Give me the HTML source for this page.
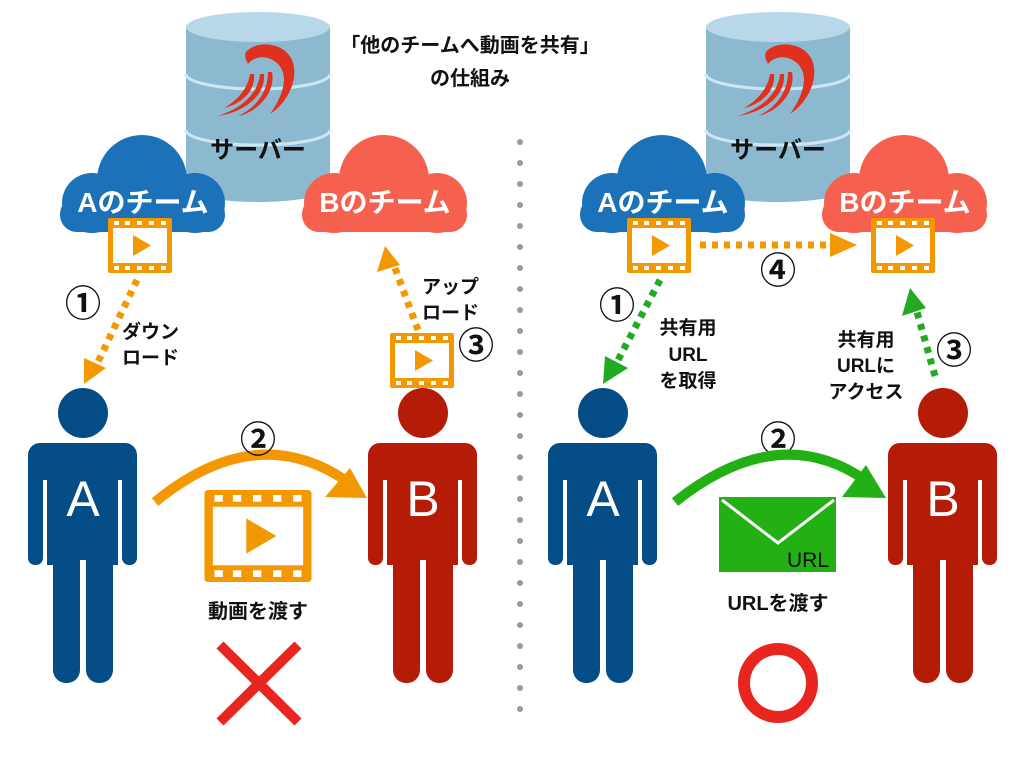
<!DOCTYPE html>
<html><head><meta charset="utf-8"><style>
html,body{margin:0;padding:0;background:#fff}
svg{display:block}
text{font-family:"Liberation Sans","Noto Sans CJK JP",sans-serif;font-weight:bold}
</style></head><body>
<svg width="1024" height="768" viewBox="0 0 1024 768" xmlns="http://www.w3.org/2000/svg">
<defs>
<symbol id="film" viewBox="0 0 64 55">
<rect x="0" y="0" width="64" height="55" rx="2" fill="#f39800"/>
<rect x="5" y="10" width="54" height="35" fill="#fff"/>
<g fill="#fff"><rect x="6" y="3" width="5" height="4"/><rect x="17" y="3" width="5" height="4"/><rect x="29" y="3" width="5" height="4"/><rect x="41" y="3" width="5" height="4"/><rect x="53" y="3" width="5" height="4"/>
<rect x="6" y="48" width="5" height="4"/><rect x="17" y="48" width="5" height="4"/><rect x="29" y="48" width="5" height="4"/><rect x="41" y="48" width="5" height="4"/><rect x="53" y="48" width="5" height="4"/></g>
<polygon points="25,17 25,38 43,27.5" fill="#f39800"/>
</symbol>
<g id="server">
<path d="M0,15 L0,175 A72,15 0 0 0 144,175 L144,15 Z" fill="#8cb9d0"/>
<ellipse cx="72" cy="15" rx="72" ry="15" fill="#b8d8ea"/>
<path d="M0,62 A72,15 0 0 0 144,62" fill="none" stroke="#cfe5f1" stroke-width="3"/>
<path d="M0,118 A72,15 0 0 0 144,118" fill="none" stroke="#cfe5f1" stroke-width="3"/>
<g fill="#e0301e">
<path d="M60,40 C70,28 98,30 106,48 C114,68 100,92 84,102 C96,85 104,65 92,52 C84,44 70,42 62,52 C60,48 58,44 60,40 Z"/>
<path d="M86,60 C90,80 72,100 52,104 C70,96 82,80 82,60 Z"/>
<path d="M78,62 C80,82 60,100 32,104 C56,96 72,82 74,62 Z"/>
<path d="M68,62 C70,78 56,92 38,96 C52,88 62,76 64,62 Z"/>
</g>
<text x="72" y="146" font-size="24" text-anchor="middle" fill="#111">サーバー</text>
</g>
<g id="cloud">
<circle cx="82" cy="45" r="45"/>
<circle cx="32" cy="68" r="30"/>
<circle cx="135" cy="68" r="30"/>
<rect x="0" y="62" width="165" height="35" rx="17"/>
</g>
</defs>

<g fill="#999">
<circle cx="520" cy="142" r="3"/><circle cx="520" cy="163" r="3"/><circle cx="520" cy="184" r="3"/><circle cx="520" cy="205" r="3"/><circle cx="520" cy="226" r="3"/><circle cx="520" cy="247" r="3"/><circle cx="520" cy="268" r="3"/><circle cx="520" cy="289" r="3"/><circle cx="520" cy="310" r="3"/><circle cx="520" cy="331" r="3"/><circle cx="520" cy="352" r="3"/><circle cx="520" cy="373" r="3"/><circle cx="520" cy="394" r="3"/><circle cx="520" cy="415" r="3"/><circle cx="520" cy="436" r="3"/><circle cx="520" cy="457" r="3"/><circle cx="520" cy="478" r="3"/><circle cx="520" cy="499" r="3"/><circle cx="520" cy="520" r="3"/><circle cx="520" cy="541" r="3"/><circle cx="520" cy="562" r="3"/><circle cx="520" cy="583" r="3"/><circle cx="520" cy="604" r="3"/><circle cx="520" cy="625" r="3"/><circle cx="520" cy="646" r="3"/><circle cx="520" cy="667" r="3"/><circle cx="520" cy="688" r="3"/><circle cx="520" cy="709" r="3"/>
</g>

<text x="470" y="52" font-size="20" text-anchor="middle" fill="#111">「他のチームへ動画を共有」</text>
<text x="470" y="85" font-size="20" text-anchor="middle" fill="#111">の仕組み</text>

<use href="#server" x="186" y="12"/>
<use href="#server" x="706" y="12"/>

<use href="#cloud" x="60" y="135" fill="#1b72b8"/>
<use href="#cloud" x="302" y="135" fill="#f5614e"/>
<use href="#cloud" x="580" y="135" fill="#1b72b8"/>
<use href="#cloud" x="822" y="135" fill="#f5614e"/>
<g font-size="28" fill="#fff" text-anchor="middle">
<text x="143" y="212">Aのチーム</text>
<text x="385" y="212">Bのチーム</text>
<text x="663" y="212">Aのチーム</text>
<text x="905" y="212">Bのチーム</text>
</g>

<use href="#film" x="108" y="218" width="64" height="55"/>
<use href="#film" x="390" y="333" width="64" height="55"/>
<use href="#film" x="627" y="218" width="64" height="55"/>
<use href="#film" x="871" y="218" width="64" height="55"/>
<use href="#film" x="204" y="490" width="108" height="92"/>

<g fill="#054d87">
<circle cx="83" cy="413" r="25"/>
<rect x="28" y="443" width="109" height="45" rx="12"/>
<rect x="28" y="470" width="15" height="95" rx="7"/>
<rect x="122" y="470" width="15" height="95" rx="7"/>
<rect x="47" y="470" width="71" height="95"/>
<rect x="53" y="550" width="27" height="133" rx="13"/>
<rect x="86" y="550" width="27" height="133" rx="13"/>
</g>
<g fill="#fff"><rect x="43" y="480" width="4" height="90"/><rect x="118" y="480" width="4" height="90"/><rect x="80" y="560" width="6" height="130"/></g>

<g fill="#b51c08">
<circle cx="423" cy="413" r="25"/>
<rect x="368" y="443" width="109" height="45" rx="12"/>
<rect x="368" y="470" width="15" height="95" rx="7"/>
<rect x="462" y="470" width="15" height="95" rx="7"/>
<rect x="387" y="470" width="71" height="95"/>
<rect x="393" y="550" width="27" height="133" rx="13"/>
<rect x="426" y="550" width="27" height="133" rx="13"/>
</g>
<g fill="#fff"><rect x="383" y="480" width="4" height="90"/><rect x="458" y="480" width="4" height="90"/><rect x="420" y="560" width="6" height="130"/></g>

<g fill="#054d87">
<circle cx="603" cy="413" r="25"/>
<rect x="548" y="443" width="109" height="45" rx="12"/>
<rect x="548" y="470" width="15" height="95" rx="7"/>
<rect x="642" y="470" width="15" height="95" rx="7"/>
<rect x="567" y="470" width="71" height="95"/>
<rect x="573" y="550" width="27" height="133" rx="13"/>
<rect x="606" y="550" width="27" height="133" rx="13"/>
</g>
<g fill="#fff"><rect x="563" y="480" width="4" height="90"/><rect x="638" y="480" width="4" height="90"/><rect x="600" y="560" width="6" height="130"/></g>

<g fill="#b51c08">
<circle cx="943" cy="413" r="25"/>
<rect x="888" y="443" width="109" height="45" rx="12"/>
<rect x="888" y="470" width="15" height="95" rx="7"/>
<rect x="982" y="470" width="15" height="95" rx="7"/>
<rect x="907" y="470" width="71" height="95"/>
<rect x="913" y="550" width="27" height="133" rx="13"/>
<rect x="946" y="550" width="27" height="133" rx="13"/>
</g>
<g fill="#fff"><rect x="903" y="480" width="4" height="90"/><rect x="978" y="480" width="4" height="90"/><rect x="940" y="560" width="6" height="130"/></g>

<g font-size="50" fill="#fff" text-anchor="middle">
<text x="83" y="516" style="font-weight:normal">A</text>
<text x="423" y="516" style="font-weight:normal">B</text>
<text x="603" y="516" style="font-weight:normal">A</text>
<text x="943" y="516" style="font-weight:normal">B</text>
</g>

<line x1="137" y1="280" x2="98" y2="362" stroke="#f39800" stroke-width="7" stroke-dasharray="6,6"/>
<polygon points="84,384 84,358 106,368" fill="#f39800"/>
<line x1="418" y1="330" x2="395" y2="268" stroke="#f39800" stroke-width="7" stroke-dasharray="6,6"/>
<polygon points="385,246 377,272 400,265" fill="#f39800"/>
<path d="M155,502 Q255,420 345,480" fill="none" stroke="#f39800" stroke-width="10"/>
<polygon points="367,498 325,497 350,468" fill="#f39800"/>

<g font-size="19" fill="#111">
<text x="122" y="338">ダウン</text>
<text x="122" y="364">ロード</text>
<text x="422" y="293">アップ</text>
<text x="422" y="319">ロード</text>
</g>
<g font-size="36" fill="#111" text-anchor="middle">
<text x="83" y="316">①</text>
<text x="476" y="358">③</text>
<text x="258" y="452">②</text>
<text x="617" y="318">①</text>
<text x="778" y="283">④</text>
<text x="954" y="363">③</text>
<text x="778" y="452">②</text>
</g>
<text x="258" y="618" font-size="20" text-anchor="middle" fill="#111">動画を渡す</text>
<g stroke="#e8251f" stroke-width="10"><line x1="220" y1="645" x2="298" y2="722"/><line x1="298" y1="645" x2="220" y2="722"/></g>

<line x1="660" y1="280" x2="617" y2="362" stroke="#22aa22" stroke-width="7" stroke-dasharray="6,6"/>
<polygon points="603,384 605,356 628,368" fill="#22aa22"/>
<line x1="700" y1="245" x2="835" y2="245" stroke="#f39800" stroke-width="7" stroke-dasharray="6,6"/>
<polygon points="857,245 830,233 830,257" fill="#f39800"/>
<line x1="935" y1="376" x2="917" y2="312" stroke="#22aa22" stroke-width="7" stroke-dasharray="6,6"/>
<polygon points="910,288 902,316 926,308" fill="#22aa22"/>
<path d="M675,502 Q778,420 865,480" fill="none" stroke="#22b014" stroke-width="10"/>
<polygon points="886,498 842,497 866,465" fill="#22b014"/>

<g font-size="19" fill="#111" text-anchor="middle">
<text x="688" y="334">共有用</text>
<text x="688" y="361">URL</text>
<text x="688" y="387">を取得</text>
<text x="866" y="346">共有用</text>
<text x="866" y="372">URLに</text>
<text x="866" y="398">アクセス</text>
</g>

<rect x="719" y="497" width="117" height="75" fill="#22b014"/>
<polyline points="722,500 778,543 834,500" fill="none" stroke="#fff" stroke-width="3"/>
<text x="808" y="567" font-size="21" text-anchor="middle" fill="#111" style="font-weight:normal">URL</text>
<text x="778" y="610" font-size="20" text-anchor="middle" fill="#111">URLを渡す</text>
<circle cx="778" cy="683" r="34" fill="none" stroke="#e8251f" stroke-width="12"/>
</svg>
</body></html>
